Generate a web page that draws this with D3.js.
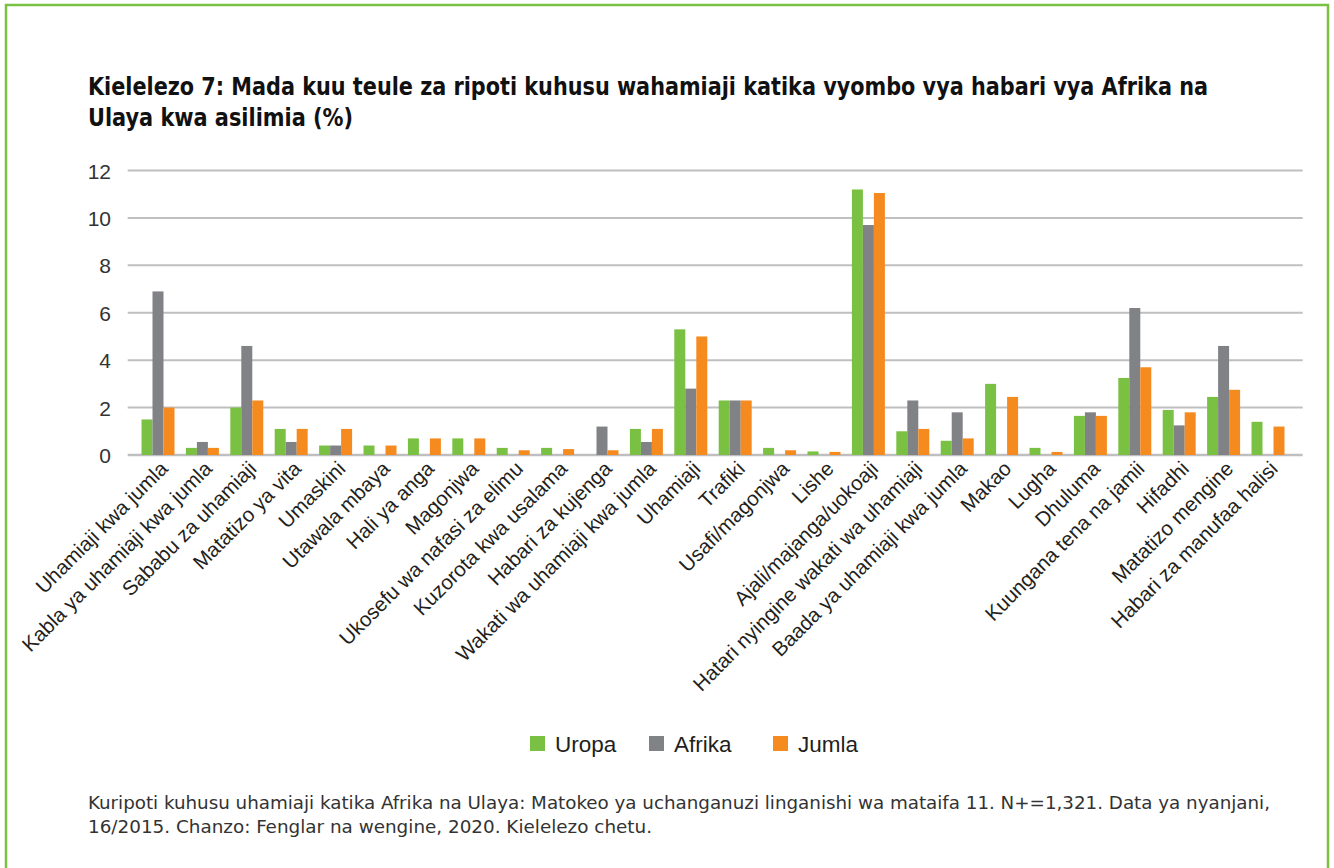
<!DOCTYPE html>
<html>
<head>
<meta charset="utf-8">
<script src="https://cdn.jsdelivr.net/npm/d3@7"></script>
<style>
  html, body { margin: 0; padding: 0; background: #fff; }
  svg { display: block; }
  .narrow { font-family: "Liberation Sans Narrow", "DejaVu Sans Condensed", "Liberation Sans", sans-serif; font-stretch: condensed; }
  .sans { font-family: "Liberation Sans", Arial, sans-serif; }
</style>
</head>
<body>
<svg id="chart" width="1334" height="868"></svg>
<script>
// Topic categories along the x axis
const categories = [
  "Uhamiaji kwa jumla",
  "Kabla ya uhamiaji kwa jumla",
  "Sababu za uhamiaji",
  "Matatizo ya vita",
  "Umaskini",
  "Utawala mbaya",
  "Hali ya anga",
  "Magonjwa",
  "Ukosefu wa nafasi za elimu",
  "Kuzorota kwa usalama",
  "Habari za kujenga",
  "Wakati wa uhamiaji kwa jumla",
  "Uhamiaji",
  "Trafiki",
  "Usafi/magonjwa",
  "Lishe",
  "Ajali/majanga/uokoaji",
  "Hatari nyingine wakati wa uhamiaji",
  "Baada ya uhamiaji kwa jumla",
  "Makao",
  "Lugha",
  "Dhuluma",
  "Kuungana tena na jamii",
  "Hifadhi",
  "Matatizo mengine",
  "Habari za manufaa halisi"
];

// Share of reports per topic (%), one array per series
const uropa  = [1.5, 0.3, 2.0, 1.1, 0.4, 0.4, 0.7, 0.7, 0.3, 0.3, 0.0, 1.1, 5.3, 2.3, 0.3, 0.15, 11.2, 1.0, 0.6, 3.0, 0.3, 1.65, 3.25, 1.9, 2.45, 1.4];
const afrika = [6.9, 0.55, 4.6, 0.55, 0.4, 0.0, 0.0, 0.0, 0.0, 0.0, 1.2, 0.55, 2.8, 2.3, 0.0, 0.0, 9.7, 2.3, 1.8, 0.0, 0.0, 1.8, 6.2, 1.25, 4.6, 0.0];
const jumla  = [2.0, 0.3, 2.3, 1.1, 1.1, 0.4, 0.7, 0.7, 0.2, 0.25, 0.2, 1.1, 5.0, 2.3, 0.2, 0.13, 11.05, 1.1, 0.7, 2.45, 0.13, 1.65, 3.7, 1.8, 2.75, 1.2];

const seriesNames = ["Uropa", "Afrika", "Jumla"];
const seriesColors = ["#7AC143", "#818285", "#F58B1F"];
const yTicks = [0, 2, 4, 6, 8, 10, 12];

const titleLines = [
  "Kielelezo 7: Mada kuu teule za ripoti kuhusu wahamiaji katika vyombo vya habari vya Afrika na",
  "Ulaya kwa asilimia (%)"
];
const noteLines = [
  "Kuripoti kuhusu uhamiaji katika Afrika na Ulaya: Matokeo ya uchanganuzi linganishi wa mataifa 11. N+=1,321. Data ya nyanjani,",
  "16/2015. Chanzo: Fenglar na wengine, 2020. Kielelezo chetu."
];

const seriesData = [uropa, afrika, jumla];
const rows = categories.map((c, i) => ({ cat: c, vals: seriesData.map(s => s[i]) }));

const svg = d3.select("#chart");

// Green frame around the figure
svg.append("rect")
  .attr("x", 6).attr("y", 5)
  .attr("width", 1322).attr("height", 900)
  .attr("fill", "none")
  .attr("stroke", "#7AC143")
  .attr("stroke-width", 2.5);

// Title
svg.append("g").selectAll("text")
  .data(titleLines)
  .join("text")
  .attr("class", "narrow")
  .attr("x", 88)
  .attr("y", (d, i) => 95 + i * 31)
  .attr("font-size", 24)
  .attr("font-weight", "bold")
  .attr("fill", "#111")
  .attr("textLength", (d, i) => i === 0 ? 1120 : 265)
  .attr("lengthAdjust", "spacingAndGlyphs")
  .text(d => d);

// Scales
const x0 = d3.scaleBand()
  .domain(categories)
  .range([135.8, 1290.2])
  .paddingInner(0.257)
  .paddingOuter(0.1285);

const x1 = d3.scaleBand()
  .domain(seriesNames)
  .range([0, x0.bandwidth()]);

const y = d3.scaleLinear()
  .domain([0, 12])
  .range([455, 170.5]);

const gridLeft = 127.7, gridRight = 1302.7;

// Horizontal gridlines
svg.append("g").selectAll("line")
  .data(yTicks)
  .join("line")
  .attr("x1", gridLeft).attr("x2", gridRight)
  .attr("y1", d => y(d)).attr("y2", d => y(d))
  .attr("stroke", "#BFBFC2")
  .attr("stroke-width", d => d === 0 ? 2.5 : 2);

// Y axis labels
const yAxis = d3.axisLeft(y).tickValues(yTicks).tickSize(0).tickPadding(0);
const yg = svg.append("g")
  .attr("transform", "translate(111,0)")
  .call(yAxis);
yg.select(".domain").remove();
yg.selectAll("text")
  .attr("class", "sans")
  .attr("font-size", 21)
  .attr("fill", "#333")
  .attr("dy", "0.36em");

// Bars
const groups = svg.append("g").selectAll("g")
  .data(rows)
  .join("g")
  .attr("transform", d => `translate(${x0(d.cat)},0)`);

groups.selectAll("rect")
  .data(d => d.vals.map((v, k) => ({ name: seriesNames[k], v, color: seriesColors[k] })))
  .join("rect")
  .attr("x", d => x1(d.name))
  .attr("width", x1.bandwidth())
  .attr("y", d => y(d.v))
  .attr("height", d => y(0) - y(d.v))
  .attr("fill", d => d.color);

// Category labels, rotated
svg.append("g").selectAll("text")
  .data(categories)
  .join("text")
  .attr("class", "sans")
  .attr("font-size", 20.5)
  .attr("fill", "#231F20")
  .attr("text-anchor", "end")
  .attr("transform", d => `translate(${x0(d) + x0.bandwidth() / 2 + 11},470) rotate(-45)`)
  .text(d => d);

// Legend
const legendX = [530, 649, 773];
const legend = svg.append("g").selectAll("g")
  .data(seriesNames)
  .join("g")
  .attr("transform", (d, i) => `translate(${legendX[i]},736)`);
legend.append("rect")
  .attr("width", 15).attr("height", 15)
  .attr("fill", (d, i) => seriesColors[i]);
legend.append("text")
  .attr("class", "sans")
  .attr("x", 25).attr("y", 16)
  .attr("font-size", 22.5)
  .attr("fill", "#231F20")
  .text(d => d);

// Source note
svg.append("g").selectAll("text")
  .data(noteLines)
  .join("text")
  .attr("class", "narrow")
  .attr("x", 88)
  .attr("y", (d, i) => 809 + i * 24)
  .attr("font-size", 17)
  .attr("fill", "#333")
  .attr("textLength", (d, i) => i === 0 ? 1182 : 564)
  .attr("lengthAdjust", "spacingAndGlyphs")
  .text(d => d);
</script>
</body>
</html>
